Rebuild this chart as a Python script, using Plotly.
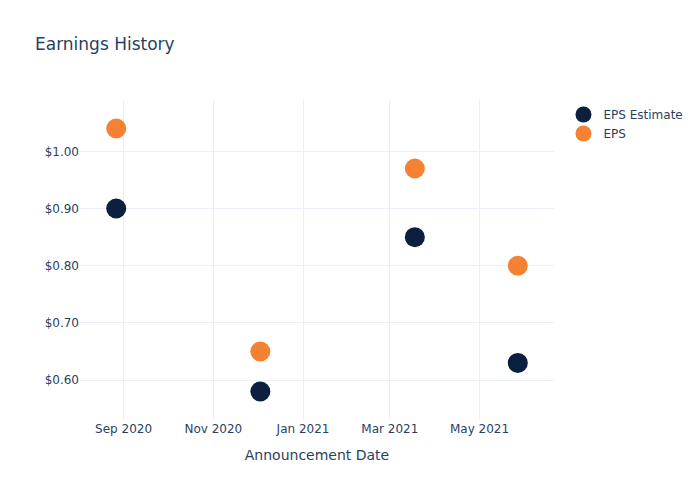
import plotly.graph_objects as go

dates = ["2020-08-27", "2020-12-03", "2021-03-18", "2021-05-27"]
eps_estimate = [0.90, 0.58, 0.85, 0.63]
eps_actual = [1.04, 0.65, 0.97, 0.80]

fig = go.Figure()
fig.add_trace(go.Scatter(x=dates, y=eps_estimate, mode="markers", name="EPS Estimate",
                         marker=dict(color="#0c1f3f", size=20)))
fig.add_trace(go.Scatter(x=dates, y=eps_actual, mode="markers", name="EPS",
                         marker=dict(color="#f58233", size=20)))
fig.update_layout(
    template="plotly_white",
    width=700, height=500,
    font=dict(family="DejaVu Sans", color="#2a3f5f"),
    title=dict(text="Earnings History"),
    xaxis=dict(title="Announcement Date", tickformat="%b %Y", dtick="M2",
               tick0="2020-09-01"),
    yaxis=dict(tickformat="$.2f", dtick=0.1),
    legend=dict(font=dict(size=12)),
)
fig.write_html("out.html")
